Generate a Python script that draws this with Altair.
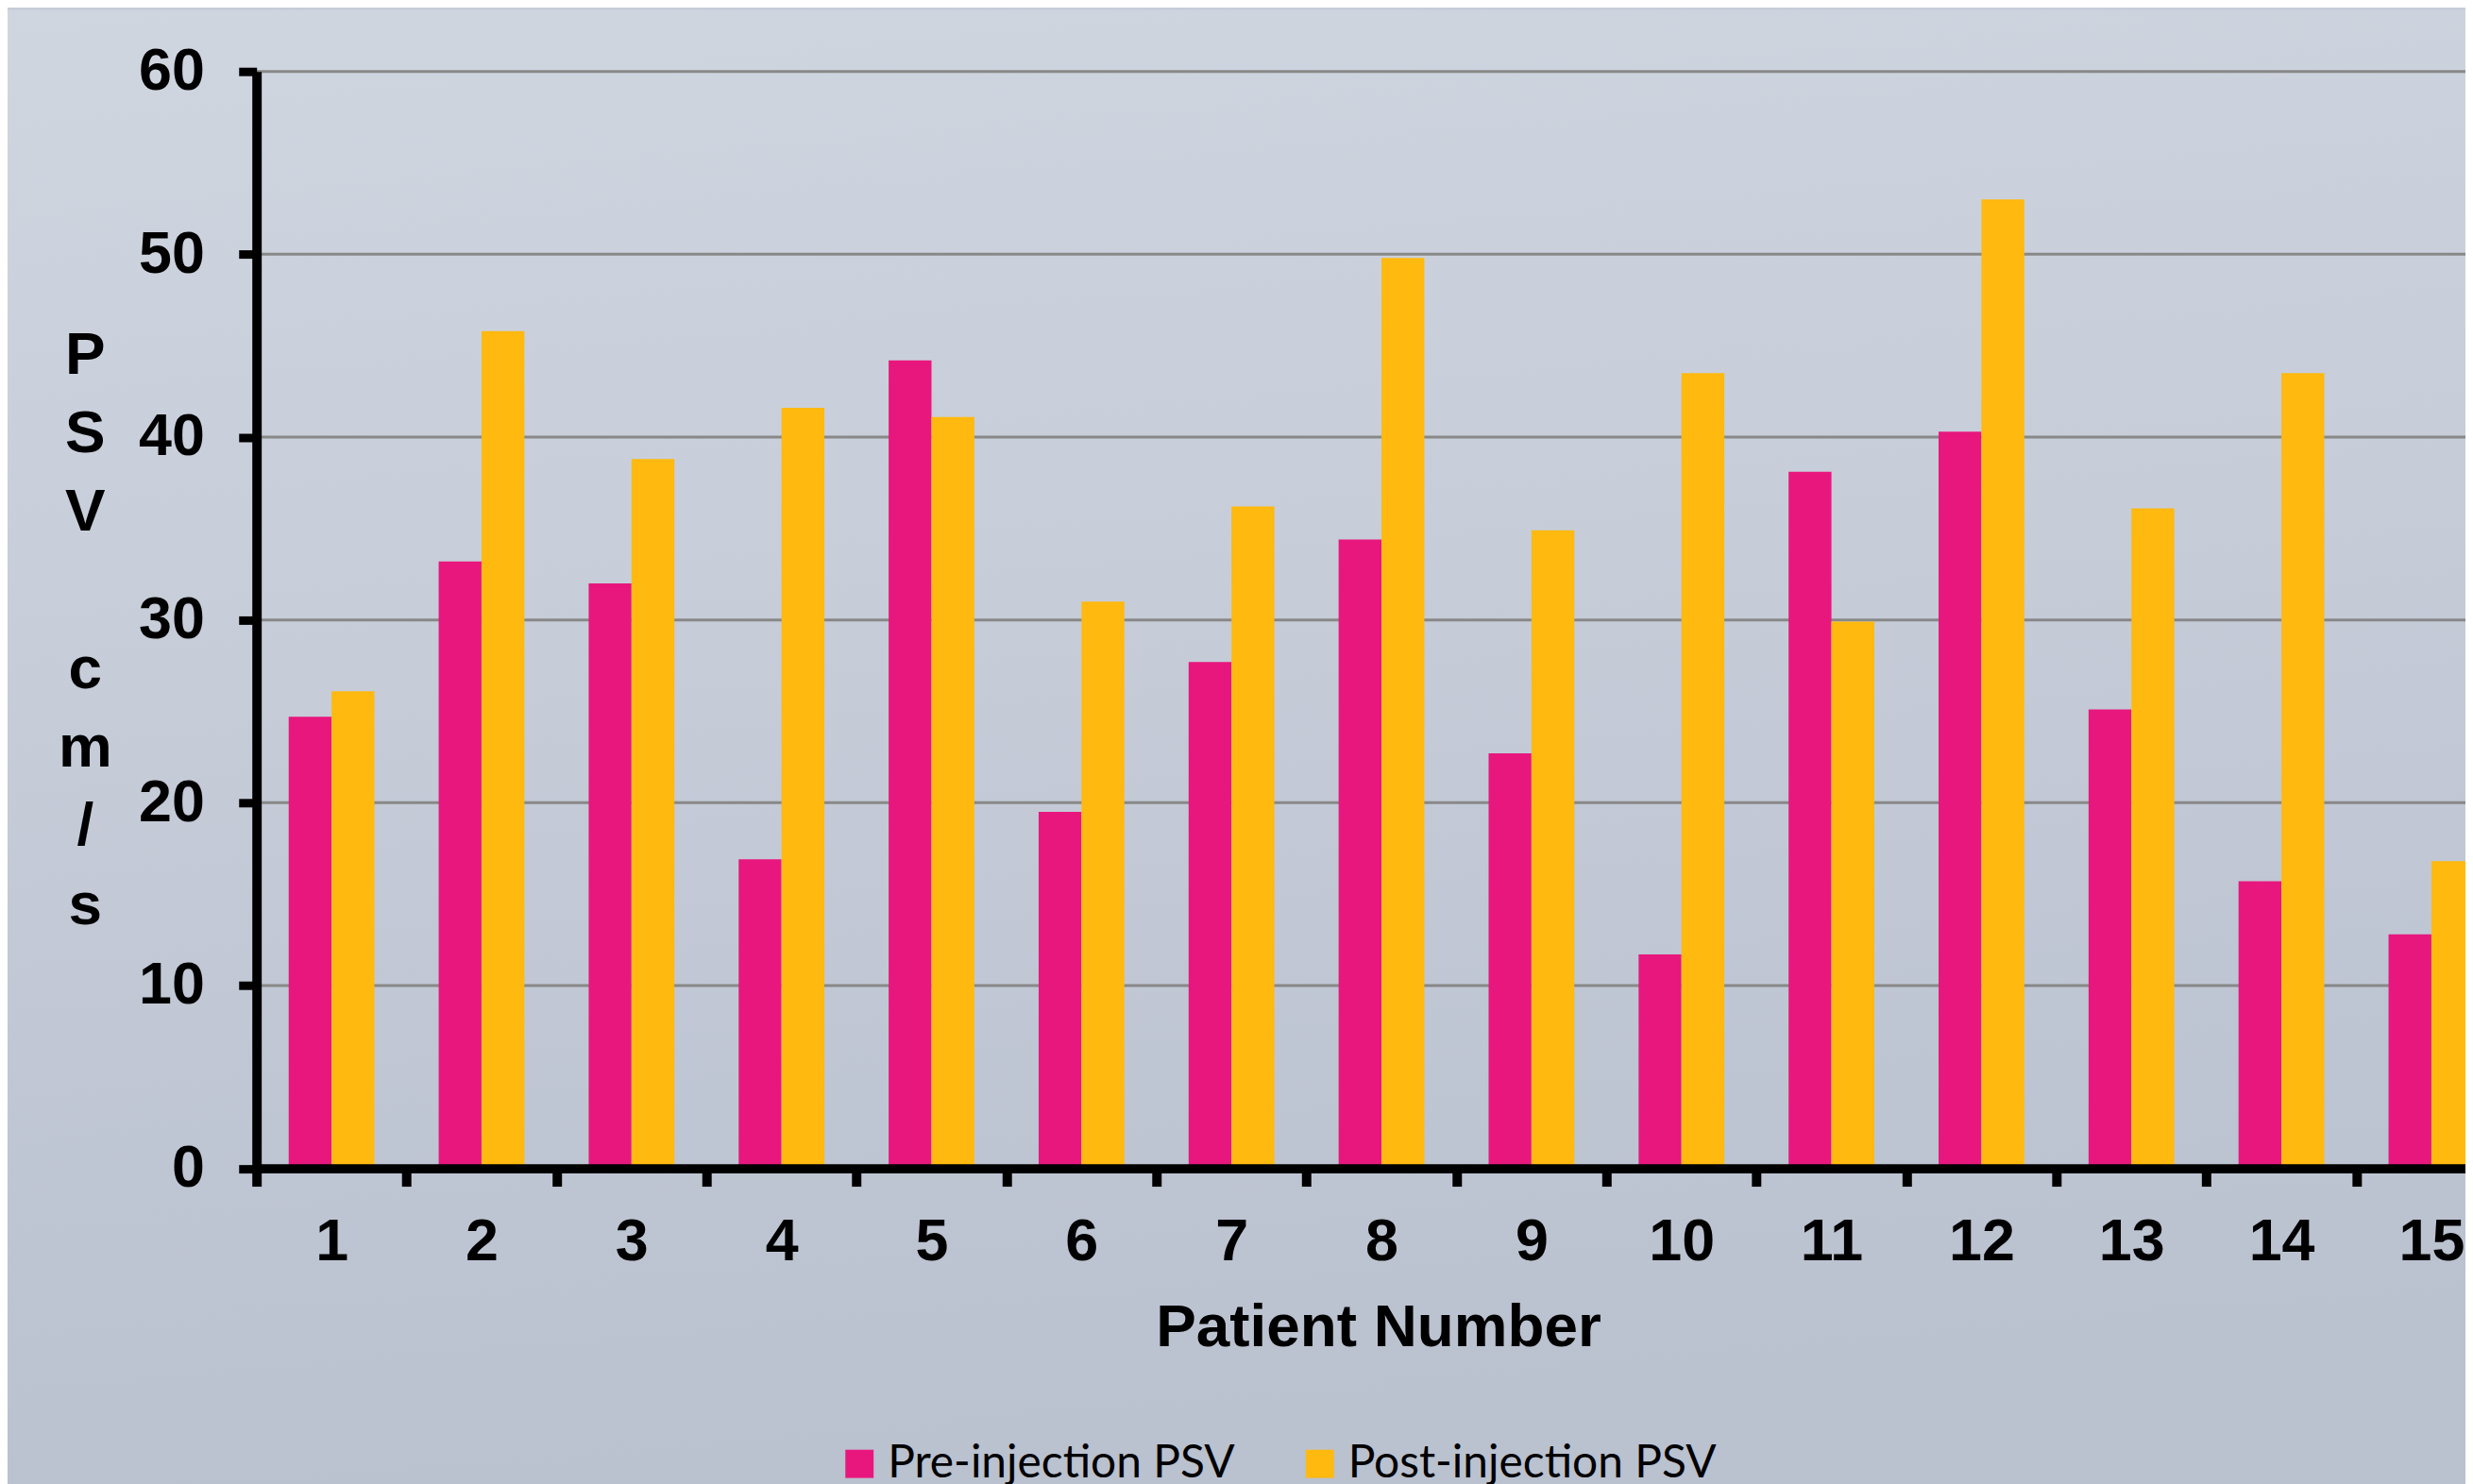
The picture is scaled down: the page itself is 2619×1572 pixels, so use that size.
import altair as alt
import pandas as pd

patients = list(range(1, 16))
pre_psv = [24.7, 33.2, 32.0, 16.9, 44.2, 19.5, 27.7, 34.4, 22.7, 11.7, 38.1, 40.3, 25.1, 15.7, 12.8]
post_psv = [26.1, 45.8, 38.8, 41.6, 41.1, 31.0, 36.2, 49.8, 34.9, 43.5, 29.9, 53.0, 36.1, 43.5, 16.8]
series_names = ["Pre-injection PSV", "Post-injection PSV"]
series_colors = ["#E8177E", "#FFB90F"]
y_ticks = [0, 10, 20, 30, 40, 50, 60]
y_title = ["P", "S", "V", "\u2800", "c", "m", "/", "s"]

rows = []
for p, a, b in zip(patients, pre_psv, post_psv):
    rows.append({"Patient": p, "Series": series_names[0], "PSV": a})
    rows.append({"Patient": p, "Series": series_names[1], "PSV": b})
df = pd.DataFrame(rows)
grid_df = pd.DataFrame({"PSV": y_ticks[1:]})

PAD_L, PAD_T, PAD_B = 264.5, 65.5, 333
W, H = 2346.5, 1165.5
BAND_RANGE = 2390

y_scale = alt.Scale(domain=[0, 60], nice=False)

bg_grad = alt.LinearGradient(
    gradient="linear",
    stops=[alt.GradientStop(color="#d0d6e0", offset=0),
           alt.GradientStop(color="#bac1cf", offset=1)],
    x1=0, y1=0, x2=0.15, y2=1,
)

bg = alt.Chart(pd.DataFrame({"bg": [0]})).mark_rect(color=bg_grad).encode(
    x=alt.value(-PAD_L), x2=alt.value(W + 20),
    y=alt.value(-PAD_T), y2=alt.value(H + PAD_B + 20),
)

grid = alt.Chart(grid_df).mark_rule(color="#888888", strokeWidth=3).encode(
    y=alt.Y("PSV:Q", scale=y_scale),
)

bars = alt.Chart(df).mark_bar(clip=False).encode(
    x=alt.X(
        "Patient:O",
        scale=alt.Scale(range=[0, BAND_RANGE], paddingInner=0, paddingOuter=0),
        axis=alt.Axis(
            title="Patient Number",
            titleFont="Liberation Sans", titleFontSize=64, titleFontWeight="bold",
            titleColor="black", titleX=1191.5, titleY=188, titleBaseline="alphabetic",
            titleAlign="center",
            labelFont="Liberation Sans", labelFontSize=63, labelFontWeight="bold",
            labelColor="black", labelAngle=0, labelPadding=28,
            tickBand="extent", tickSize=19, tickWidth=10, tickColor="black",
            domainColor="black", domainWidth=10, grid=False, zindex=1,
        ),
    ),
    xOffset=alt.XOffset(
        "Series:N", sort=series_names,
        scale=alt.Scale(paddingInner=0, paddingOuter=0.75),
    ),
    y=alt.Y(
        "PSV:Q",
        scale=y_scale,
        axis=alt.Axis(
            values=y_ticks,
            title=y_title, titleAngle=0, titleFont="Liberation Sans", titleFontSize=64,
            titleFontWeight="bold", titleColor="black", titleX=-182.5, titleY=320.7,
            titleAlign="center", titleBaseline="alphabetic", titleLineHeight=83.5,
            labelFont="Liberation Sans", labelFontSize=63, labelFontWeight="bold",
            labelColor="black", labelPadding=36.5,
            tickSize=19, tickWidth=9, tickColor="black",
            domainColor="black", domainWidth=10,
            grid=False, zindex=1,
        ),
    ),
    color=alt.Color(
        "Series:N",
        scale=alt.Scale(domain=series_names, range=series_colors),
        sort=series_names,
        legend=alt.Legend(
            title=None, orient="none", legendX=616.5, legendY=1455.5,
            direction="horizontal", symbolType="square", symbolSize=900,
            symbolStrokeWidth=0, symbolOpacity=1,
            labelFont="Lato", labelFontSize=48, labelColor="black",
            labelOffset=6, columnPadding=66, labelLimit=2000, padding=0,
        ),
    ),
)

chart = alt.layer(bg, grid, bars).properties(
    width=W, height=H,
    autosize=alt.AutoSizeParams(type="none"),
    padding={"left": PAD_L, "top": PAD_T, "right": 0, "bottom": PAD_B},
    background="#c6ccd8",
).configure_view(strokeWidth=0)

chart.save("out.html", embed_options={"renderer": "svg", "actions": False})
